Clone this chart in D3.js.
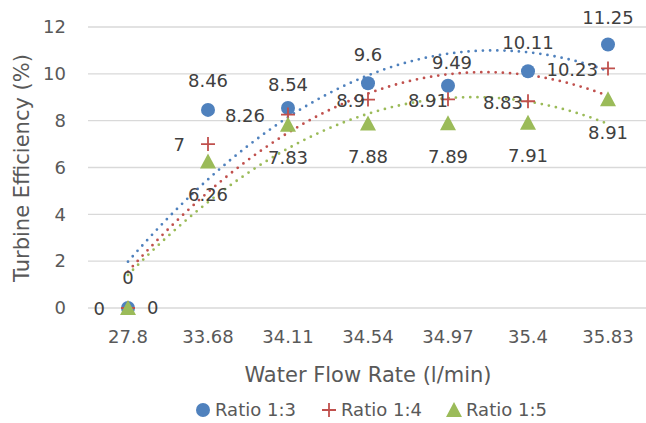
<!DOCTYPE html>
<html>
<head>
<meta charset="utf-8">
<script src="https://cdn.jsdelivr.net/npm/d3@7"></script>
<style>
  body { margin: 0; background: #fff; }
  svg { font-family: "DejaVu Sans", sans-serif; }
</style>
</head>
<body>
<svg class="canvas"></svg>
<script>
const flowRates = ['27.8', '33.68', '34.11', '34.54', '34.97', '35.4', '35.83'];
const ratio13 = [0, 8.46, 8.54, 9.6, 9.49, 10.11, 11.25];
const ratio14 = [0, 7, 8.26, 8.9, 8.91, 8.83, 10.23];
const ratio15 = [0, 6.26, 7.83, 7.88, 7.89, 7.91, 8.91];
const yTicks = [0, 2, 4, 6, 8, 10, 12];
const seriesNames = ['Ratio 1:3', 'Ratio 1:4', 'Ratio 1:5'];

const w = 646;
const h = 423;
const plotLeft = 88, plotRight = 648, plotTop = 27, plotBottom = 308;

const svg = d3.select('svg.canvas').attr('width', w).attr('height', h);

// label placement per point (some labels were dragged by hand in the original)
const blueLabelDy = [-30, -29, -23, -29, -23, -29, -27];
const blueLabelDx = [0, 0, 0, 0, 4, 0, 0];
const redLabelGap = [23, 23, 23, 3, 0, 5, 10];

const series = [
    { name: seriesNames[0], values: ratio13, color: '#4F81BD', shape: 'circle',
      label: i => ({ dx: blueLabelDx[i], dy: blueLabelDy[i], anchor: 'middle' }) },
    { name: seriesNames[1], values: ratio14, color: '#C0504D', shape: 'plus',
      label: i => ({ dx: -redLabelGap[i], dy: 1, anchor: 'end' }) },
    { name: seriesNames[2], values: ratio15, color: '#9BBB59', shape: 'triangle',
      label: i => i === 0 ? { dx: 19, dy: 0, anchor: 'start' } : { dx: 0, dy: 33, anchor: 'middle' } }
];

const xScale = d3.scaleBand().domain(flowRates).range([plotLeft, plotRight]);
const xPos = c => xScale(c) + xScale.bandwidth() / 2;
const yScale = d3.scaleLinear().domain([0, 12]).range([plotBottom, plotTop]);

// gridlines
svg.append('g')
    .selectAll('line')
    .data(yTicks)
    .enter()
    .append('line')
    .attr('x1', plotLeft)
    .attr('x2', plotRight)
    .attr('y1', d => yScale(d))
    .attr('y2', d => yScale(d))
    .attr('stroke', '#d9d9d9')
    .attr('stroke-width', 1.3);

// y axis labels
svg.append('g')
    .selectAll('text')
    .data(yTicks)
    .enter()
    .append('text')
    .attr('x', 66)
    .attr('y', d => yScale(d))
    .attr('dy', '0.35em')
    .attr('text-anchor', 'end')
    .attr('font-size', 18)
    .attr('fill', '#595959')
    .text(d => d);

// x axis labels
svg.append('g')
    .selectAll('text')
    .data(flowRates)
    .enter()
    .append('text')
    .attr('x', d => xPos(d))
    .attr('y', 337)
    .attr('dy', '0.35em')
    .attr('text-anchor', 'middle')
    .attr('font-size', 18)
    .attr('fill', '#595959')
    .text(d => d);

// axis titles
svg.append('text')
    .attr('x', 368)
    .attr('y', 375)
    .attr('dy', '0.35em')
    .attr('text-anchor', 'middle')
    .attr('font-size', 21)
    .attr('fill', '#595959')
    .text('Water Flow Rate (l/min)');

svg.append('text')
    .attr('transform', 'translate(22,168) rotate(-90)')
    .attr('dy', '0.35em')
    .attr('text-anchor', 'middle')
    .attr('font-size', 21)
    .attr('fill', '#595959')
    .text('Turbine Efficiency (%)');

// polynomial (order 2) trendline, least squares on category index 1..n
let quadFit = (ys) => {
    const n = ys.length;
    const xs = ys.map((v, i) => i + 1);
    const m = d3.mean(xs);
    const t = xs.map(x => x - m);
    const St2 = d3.sum(t, v => v * v);
    const St4 = d3.sum(t, v => v ** 4);
    const Sy = d3.sum(ys);
    const Sty = d3.sum(t, (v, i) => v * ys[i]);
    const St2y = d3.sum(t, (v, i) => v * v * ys[i]);
    const b = Sty / St2;
    const c = (St2y - St2 * Sy / n) / (St4 - St2 * St2 / n);
    const a = (Sy - c * St2) / n;
    return x => a + b * (x - m) + c * (x - m) * (x - m);
};

const idxToPx = d3.scaleLinear().domain([1, flowRates.length]).range([xPos(flowRates[0]), xPos(flowRates[flowRates.length - 1])]);

series.forEach(s => {
    const f = quadFit(s.values);
    const pts = d3.range(1, flowRates.length + 0.001, 0.05).map(x => [idxToPx(x), yScale(f(x))]);
    svg.append('path')
        .attr('d', d3.line()(pts))
        .attr('fill', 'none')
        .attr('stroke', s.color)
        .attr('stroke-width', 2.8)
        .attr('stroke-linecap', 'round')
        .attr('stroke-dasharray', '0 7.2');
});

// markers
let drawMarker = (g, shape, color, x, y) => {
    if (shape === 'circle') {
        g.append('circle').attr('cx', x).attr('cy', y).attr('r', 7).attr('fill', color);
    } else if (shape === 'plus') {
        g.append('path')
            .attr('d', `M${x - 7},${y}H${x + 7}M${x},${y - 7}V${y + 7}`)
            .attr('stroke', color)
            .attr('stroke-width', 1.8)
            .attr('fill', 'none');
    } else {
        g.append('path')
            .attr('d', `M${x},${y - 8}L${x + 8},${y + 7}L${x - 8},${y + 7}Z`)
            .attr('fill', color);
    }
};

const marks = svg.append('g');
series.forEach(s => {
    s.values.forEach((v, i) => drawMarker(marks, s.shape, s.color, xPos(flowRates[i]), yScale(v)));
});

// data labels
const labels = svg.append('g');
series.forEach(s => {
    s.values.forEach((v, i) => {
        const p = s.label(i);
        labels.append('text')
            .attr('x', xPos(flowRates[i]) + p.dx)
            .attr('y', yScale(v) + p.dy)
            .attr('dy', '0.35em')
            .attr('text-anchor', p.anchor)
            .attr('font-size', 18)
            .attr('fill', '#404040')
            .text(v);
    });
});

// legend
const legendX = [203, 329, 454];
const legend = svg.append('g');
series.forEach((s, i) => {
    drawMarker(legend, s.shape, s.color, legendX[i], 410);
    legend.append('text')
        .attr('x', legendX[i] + 12)
        .attr('y', 410)
        .attr('dy', '0.35em')
        .attr('font-size', 18)
        .attr('fill', '#595959')
        .text(s.name);
});
</script>
</body>
</html>
